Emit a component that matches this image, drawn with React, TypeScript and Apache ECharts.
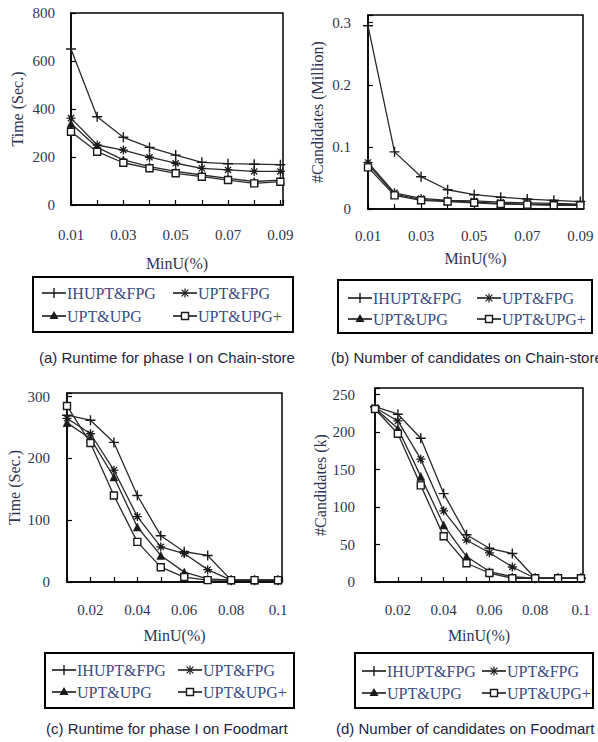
import React, { useEffect, useRef } from 'react';
import * as echarts from 'echarts';

// ---------- data ----------
const seriesNames = ['IHUPT&FPG', 'UPT&FPG', 'UPT&UPG', 'UPT&UPG+'];

const minUChain = [0.01, 0.02, 0.03, 0.04, 0.05, 0.06, 0.07, 0.08, 0.09];
const minUFood = [0.01, 0.02, 0.03, 0.04, 0.05, 0.06, 0.07, 0.08, 0.09, 0.1];

// (a) Runtime for phase I on Chain-store (sec.)
const runtimeChainIHUPT = [650, 368, 282, 240, 208, 178, 172, 170, 168];
const runtimeChainUPTFPG = [362, 250, 229, 199, 174, 153, 146, 140, 140];
const runtimeChainUPTUPG = [340, 240, 188, 160, 140, 125, 111, 98, 104];
const runtimeChainUPTUPGPlus = [305, 222, 176, 153, 132, 118, 104, 90, 97];

// (b) Number of candidates on Chain-store (million)
const candChainIHUPT = [0.295, 0.092, 0.052, 0.031, 0.023, 0.019, 0.016, 0.014, 0.012];
const candChainUPTFPG = [0.075, 0.026, 0.017, 0.014, 0.013, 0.011, 0.010, 0.009, 0.008];
const candChainUPTUPG = [0.072, 0.024, 0.015, 0.013, 0.011, 0.009, 0.008, 0.007, 0.007];
const candChainUPTUPGPlus = [0.067, 0.022, 0.014, 0.012, 0.010, 0.008, 0.007, 0.006, 0.006];

// (c) Runtime for phase I on Foodmart (sec.)
const runtimeFoodIHUPT = [270, 262, 226, 140, 75, 49, 43, 3, 3, 3];
const runtimeFoodUPTFPG = [265, 240, 181, 106, 57, 46, 20, 3, 3, 3];
const runtimeFoodUPTUPG = [258, 232, 170, 89, 43, 16, 5, 3, 3, 3];
const runtimeFoodUPTUPGPlus = [285, 225, 140, 65, 24, 8, 3, 3, 3, 3];

// (d) Number of candidates on Foodmart (k)
const candFoodIHUPT = [234, 224, 192, 118, 63, 45, 38, 5, 5, 5];
const candFoodUPTFPG = [233, 215, 164, 95, 56, 39, 20, 5, 5, 5];
const candFoodUPTUPG = [232, 205, 141, 76, 34, 14, 7, 5, 5, 5];
const candFoodUPTUPGPlus = [231, 198, 129, 61, 25, 12, 5, 5, 5, 5];

// tick labels
const xTicksChain = ['0.01', '0.03', '0.05', '0.07', '0.09'];
const xTicksFood = ['0.02', '0.04', '0.06', '0.08', '0.1'];
const yTicksA = ['0', '200', '400', '600', '800'];
const yTicksB = ['0', '0.1', '0.2', '0.3'];
const yTicksC = ['0', '100', '200', '300'];
const yTicksD = ['0', '50', '100', '150', '200', '250'];

const captions = [
  '(a) Runtime for phase I on Chain-store',
  '(b) Number of candidates on Chain-store',
  '(c) Runtime for phase I on Foodmart',
  '(d) Number of candidates on Foodmart',
];

// ---------- styles ----------
const SERIF = 'Liberation Serif, Times New Roman, serif';
const SANS = 'Liberation Sans, Arial, sans-serif';
const TXT = '#2e3552';
const LEG_TXT = '#3a4c80';
const INK = '#1a1a1a';

const SYM_PLUS = 'path://M0,5L10,5M5,0L5,10';
const SYM_STAR = 'path://M0,5L10,5M5,0L5,10M1.6,1.6L8.4,8.4M1.6,8.4L8.4,1.6';

const symbolStyles = [
  { symbol: SYM_PLUS, symbolSize: 10, itemStyle: { color: INK, borderColor: INK, borderWidth: 1.4 } },
  { symbol: SYM_STAR, symbolSize: 9, itemStyle: { color: INK, borderColor: INK, borderWidth: 1.3 } },
  { symbol: 'triangle', symbolSize: 8, itemStyle: { color: INK, borderColor: INK, borderWidth: 0.5 } },
  { symbol: 'rect', symbolSize: 7, itemStyle: { color: '#ffffff', borderColor: INK, borderWidth: 1.4 } },
];

function pairs(xs: number[], ys: number[]) {
  return xs.map((x, i) => [x, ys[i]]);
}

function labelFrom(list: string[]) {
  return (v: number) => {
    const s = String(Number(v.toFixed(4)));
    return list.includes(s) ? s : '';
  };
}

const panels = [
  {
    grid: { left: 71, top: 13, width: 212, height: 192 },
    xs: minUChain, xMax: 0.091, xTicks: xTicksChain,
    yMax: 800, yInterval: 200, yTicks: yTicksA, yName: 'Time (Sec.)',
    ys: [runtimeChainIHUPT, runtimeChainUPTFPG, runtimeChainUPTUPG, runtimeChainUPTUPGPlus],
    xLabelMargin: 22, xNameGap: 50, yLabelMargin: 16, yNameGap: 46, yNameSize: 16,
    legend: { box: [33, 277, 260, 55], cols: [42, 173], rows: [293, 316] },
    caption: { x: 39, y: 357 },
  },
  {
    grid: { left: 368, top: 15, width: 215, height: 194 },
    xs: minUChain, xMax: 0.091, xTicks: xTicksChain,
    yMax: 0.3124, yInterval: 0.1, yTicks: yTicksB, yName: '#Candidates (Million)',
    ys: [candChainIHUPT, candChainUPTFPG, candChainUPTUPG, candChainUPTUPGPlus],
    xLabelMargin: 19, xNameGap: 41, yLabelMargin: 17, yNameGap: 43, yNameSize: 16,
    legend: { box: [338, 280, 254, 53], cols: [348, 477], rows: [298, 319] },
    caption: { x: 331, y: 357 },
  },
  {
    grid: { left: 67, top: 393, width: 215, height: 189 },
    xs: minUFood, xMax: 0.1017, xTicks: xTicksFood,
    yMax: 306, yInterval: 100, yTicks: yTicksC, yName: 'Time (Sec.)',
    ys: [runtimeFoodIHUPT, runtimeFoodUPTFPG, runtimeFoodUPTUPG, runtimeFoodUPTUPGPlus],
    xLabelMargin: 20, xNameGap: 45, yLabelMargin: 17, yNameGap: 45, yNameSize: 16,
    legend: { box: [45, 653, 249, 55], cols: [52, 178], rows: [670, 692] },
    caption: { x: 46, y: 728 },
  },
  {
    grid: { left: 375, top: 388, width: 208, height: 194 },
    xs: minUFood, xMax: 0.1009, xTicks: xTicksFood,
    yMax: 259, yInterval: 50, yTicks: yTicksD, yName: '#Candidates (k)',
    ys: [candFoodIHUPT, candFoodUPTFPG, candFoodUPTUPG, candFoodUPTUPGPlus],
    xLabelMargin: 20, xNameGap: 45, yLabelMargin: 20, yNameGap: 47, yNameSize: 16,
    legend: { box: [355, 653, 238, 55], cols: [362, 482], rows: [671, 693] },
    caption: { x: 336, y: 728 },
  },
];

function legendSymbol(kind: number, cx: number, cy: number): any[] {
  const ln = (x1: number, y1: number, x2: number, y2: number, w = 1.4) => ({
    type: 'line', shape: { x1, y1, x2, y2 }, style: { stroke: INK, lineWidth: w }, silent: true,
  });
  if (kind === 0) return [ln(cx, cy - 5, cx, cy + 5)];
  if (kind === 1) {
    const d = 3.4;
    return [ln(cx, cy - 4.5, cx, cy + 4.5, 1.2), ln(cx - d, cy - d, cx + d, cy + d, 1.2), ln(cx - d, cy + d, cx + d, cy - d, 1.2)];
  }
  if (kind === 2) {
    return [{
      type: 'polygon', shape: { points: [[cx, cy - 5], [cx - 4.5, cy + 3], [cx + 4.5, cy + 3]] },
      style: { fill: INK }, silent: true,
    }];
  }
  return [{
    type: 'rect', shape: { x: cx - 3.5, y: cy - 3.5, width: 7, height: 7 },
    style: { fill: '#fff', stroke: INK, lineWidth: 1.4 }, silent: true,
  }];
}

function buildLegend(lg: { box: number[]; cols: number[]; rows: number[] }): any[] {
  const els: any[] = [];
  els.push({
    type: 'rect', shape: { x: lg.box[0], y: lg.box[1], width: lg.box[2], height: lg.box[3] },
    style: { fill: 'none', stroke: '#000', lineWidth: 2 }, silent: true,
  });
  seriesNames.forEach((name, i) => {
    const x = lg.cols[i % 2];
    const y = lg.rows[Math.floor(i / 2)];
    els.push({
      type: 'line', shape: { x1: x, y1: y, x2: x + 24, y2: y },
      style: { stroke: INK, lineWidth: 1.6 }, silent: true,
    });
    els.push(...legendSymbol(i, x + 12, y));
    els.push({
      type: 'text', x: x + 25, y,
      style: { text: name, font: `16px ${SERIF}`, fill: LEG_TXT, verticalAlign: 'middle', align: 'left' },
      silent: true,
    });
  });
  return els;
}

function buildOption() {
  const grid: any[] = [];
  const xAxis: any[] = [];
  const yAxis: any[] = [];
  const series: any[] = [];
  const graphic: any[] = [];

  panels.forEach((p, pi) => {
    grid.push({ ...p.grid, show: true, borderColor: '#000', borderWidth: 1.5, backgroundColor: 'transparent' });
    xAxis.push({
      type: 'value', gridIndex: pi, min: 0.01, max: p.xMax, interval: 0.01,
      axisLine: { show: true, lineStyle: { color: '#000', width: 1.5 } },
      axisTick: { show: true, inside: true, length: 5, lineStyle: { color: '#000', width: 1.2 } },
      splitLine: { show: false },
      axisLabel: { margin: p.xLabelMargin, fontFamily: SERIF, fontSize: 15, color: TXT, formatter: labelFrom(p.xTicks) },
      name: 'MinU(%)', nameLocation: 'middle', nameGap: p.xNameGap,
      nameTextStyle: { fontFamily: SERIF, fontSize: 16, color: TXT },
    });
    yAxis.push({
      type: 'value', gridIndex: pi, min: 0, max: p.yMax, interval: p.yInterval,
      axisLine: { show: true, lineStyle: { color: '#000', width: 1.5 } },
      axisTick: { show: true, inside: true, length: 5, lineStyle: { color: '#000', width: 1.2 } },
      splitLine: { show: false },
      axisLabel: { margin: p.yLabelMargin, fontFamily: SERIF, fontSize: 15, color: TXT, formatter: labelFrom(p.yTicks) },
      name: p.yName, nameLocation: 'middle', nameGap: p.yNameGap,
      nameTextStyle: { fontFamily: SERIF, fontSize: p.yNameSize, color: TXT },
    });
    p.ys.forEach((vals, si) => {
      series.push({
        type: 'line', name: seriesNames[si], xAxisIndex: pi, yAxisIndex: pi,
        data: pairs(p.xs, vals),
        ...symbolStyles[si],
        showAllSymbol: true,
        lineStyle: { color: '#2a2a2a', width: 1.3 },
        z: 2 + si,
      });
    });
    graphic.push(...buildLegend(p.legend));
    graphic.push({
      type: 'text', x: p.caption.x, y: p.caption.y,
      style: { text: captions[pi], font: `15px ${SANS}`, fill: '#1f2542', verticalAlign: 'middle', align: 'left' },
      silent: true,
    });
  });

  return { animation: false, backgroundColor: '#ffffff', grid, xAxis, yAxis, series, graphic };
}

export default function App() {
  const ref = useRef<HTMLDivElement>(null);
  useEffect(() => {
    if (!ref.current) return;
    const chart = echarts.init(ref.current, undefined, { renderer: 'svg' });
    chart.setOption(buildOption() as any);
    return () => chart.dispose();
  }, []);
  return (
    <div
      ref={ref}
      style={{ position: 'fixed', left: 0, top: 0, width: 598, height: 742, background: '#fff' }}
    />
  );
}
